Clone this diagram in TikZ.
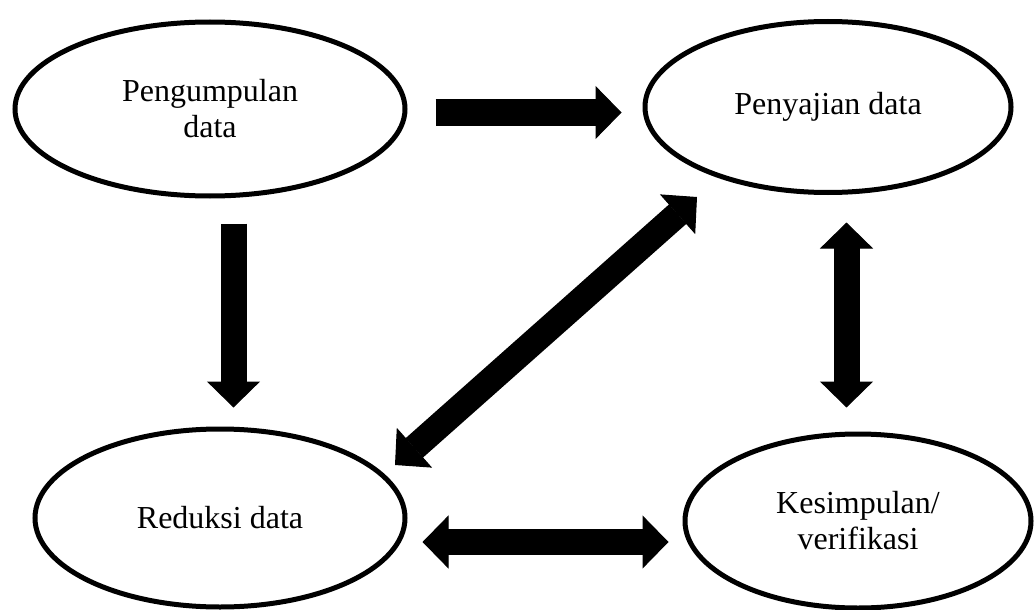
\documentclass[tikz,border=0pt]{standalone}
\usepackage{fontspec}
\setmainfont{Liberation Serif}
\usetikzlibrary{shapes.geometric,arrows.meta}
\begin{document}
\begin{tikzpicture}[x=1pt,y=-1pt,
  oval/.style={ellipse,draw,line width=5pt,inner sep=0pt,align=center,
    font=\fontsize{32}{36}\selectfont},
  bigarrow/.style={line width=26pt,-{Triangle[length=26pt,width=53pt,line width=1pt]}},
  bigdarrow/.style={line width=26pt,{Triangle[length=26pt,width=53pt,line width=1pt]}-{Triangle[length=26pt,width=53pt,line width=1pt]}}]
\useasboundingbox (0,0) rectangle (1034,610);
\node[oval,minimum width=390pt,minimum height=174pt] (A) at (210,109) {Pengumpulan\\data};
\node[oval,minimum width=366pt,minimum height=171pt] (B) at (828,107) {Penyajian data};
\node[oval,minimum width=370pt,minimum height=178pt] (C) at (220,518) {Reduksi data};
\node[oval,minimum width=346pt,minimum height=174pt] (D) at (858,521) {Kesimpulan/\\verifikasi};
% arrows
\draw[bigarrow] ([shift={(28,3.5)}]A.east) -- ([shift={(-21,5.5)}]B.west);
\draw[bigarrow] ([shift={(23.5,25)}]A.south) -- ([shift={(13.5,-19)}]C.north);
\draw[bigdarrow] ([shift={(18.5,27.5)}]B.south) -- ([shift={(-11.5,-24)}]D.north);
\draw[bigdarrow] ([shift={(15,24)}]C.east) -- ([shift={(-14,21)}]D.west);
\draw[bigdarrow] ([shift={(175,-53)}]C.center) -- ([shift={(-131,90)}]B.center);
\end{tikzpicture}
\end{document}
